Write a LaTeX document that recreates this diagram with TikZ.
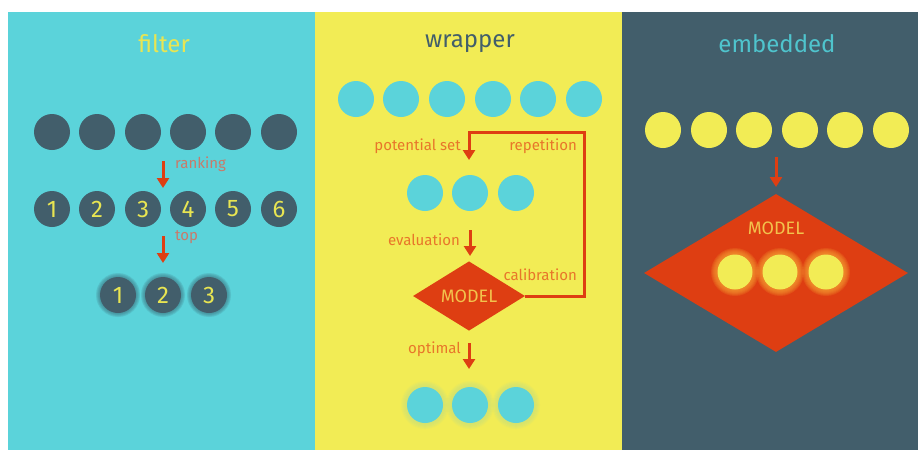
\documentclass[tikz,border=0pt]{standalone}
\usepackage{fontspec}
\setmainfont{Fira Sans}
\usetikzlibrary{arrows.meta,shapes.geometric}
\definecolor{cyanbg}{HTML}{5BD3DA}
\definecolor{yellowbg}{HTML}{F2EC55}
\definecolor{slatebg}{HTML}{425E6B}
\definecolor{redarr}{HTML}{DE3E12}
\definecolor{lblcyan}{HTML}{C97A6A}
\definecolor{lblyel}{HTML}{E8762A}
\definecolor{modeltxt}{HTML}{F2C24C}
\definecolor{numtxt}{HTML}{E8E552}
\definecolor{titlecyan}{HTML}{4FC4CD}
\definecolor{glowdark}{HTML}{3A6E7B}
\definecolor{glowyel}{HTML}{CDE27A}
\definecolor{glowred}{HTML}{F7A233}
\tikzset{
  ball/.style={circle,inner sep=0pt,minimum size=36pt,fill=#1,font=\fontsize{24}{24}\selectfont,text=numtxt},
  title/.style={font=\fontsize{24}{24}\selectfont,text=#1},
  lbl/.style={font=\fontsize{15}{15}\selectfont,text=#1,inner sep=1pt},
  redarrow/.style={draw=redarr,line width=3pt,-{Triangle[width=12pt,length=10pt]}},
  modeltext/.style={font=\fontsize{18}{18}\selectfont,text=modeltxt},
}
\newcommand{\glowat}[4]{%
  \foreach \k in {#4}{%
    \fill[#3,opacity=0.18] (#1,#2) circle[radius={18+\k}];
  }%
}
\begin{document}
\begin{tikzpicture}[x=1pt,y=-1pt]
\useasboundingbox (0,0) rectangle (918,450);
\fill[white] (0,0) rectangle (918,450);
% panels
\fill[cyanbg] (8,12) rectangle (315,450);
\fill[yellowbg] (315,12) rectangle (622,450);
\fill[slatebg] (622,12) rectangle (918,450);
% ===== filter =====
\node[title=numtxt] (tf) at (164,44) {filter};
\foreach \i/\x in {1/52,2/97,3/143,4/188,5/233,6/279}{
  \node[ball=slatebg] (fa\i) at (\x,132) {};
  \node[ball=slatebg] (fb\i) at (\x,209) {\i};
}
\foreach \x in {118,163,209}{\glowat{\x}{295}{glowdark}{4,3,2,1}}
\node[ball=slatebg] (fc1) at (118,295) {1};
\node[ball=slatebg] (fc2) at (163,295) {2};
\node[ball=slatebg] (fc3) at (209,295) {3};
\coordinate (fr1) at (163,161);
\coordinate (fr2) at (163,188);
\coordinate (ft1) at (163,236);
\coordinate (ft2) at (163,263);
\draw[redarrow] (fr1) -- (fr2);
\draw[redarrow] (ft1) -- (ft2);
\node[lbl=lblcyan,anchor=west] (lrank) at (174,164) {ranking};
\node[lbl=lblcyan,anchor=west] (ltop) at (174,237) {top};
% ===== wrapper =====
\node[title=slatebg] (tw) at (470,44) {wrapper};
\foreach \i/\x in {1/356,2/401,3/447,4/493,5/538,6/584}{
  \node[ball=cyanbg] (wa\i) at (\x,99) {};
}
\foreach \i/\x in {1/425,2/470,3/516}{
  \node[ball=cyanbg] (wb\i) at (\x,193) {};
}
\foreach \x in {425,470,516}{\glowat{\x}{405}{glowyel}{6,5,4,3,2,1}}
\foreach \i/\x in {1/425,2/470,3/516}{
  \node[ball=cyanbg] (wc\i) at (\x,405) {};
}
\node[diamond,fill=redarr,minimum width=112pt,minimum height=56pt,inner sep=0pt,modeltext] (wm) at (469,296) {MODEL};
\coordinate (wloopr) at (584,296);
\coordinate (wloopt) at (584,132);
\coordinate (wloopl) at (469,132);
\coordinate (wloope) at (469,160);
\draw[redarr,line width=3pt,-{Triangle[width=12pt,length=10pt]}] (wm.east) -- (wloopr) -- (wloopt) -- (wloopl) -- (wloope);
\coordinate (we1) at (470,230);
\coordinate (we2) at (470,256);
\coordinate (wo1) at (469,343);
\coordinate (wo2) at (469,369);
\draw[redarrow] (we1) -- (we2);
\draw[redarrow] (wo1) -- (wo2);
\node[lbl=lblyel,anchor=east] (lpot) at (462,146) {potential set};
\node[lbl=lblyel,anchor=east] (lrep) at (578,146) {repetition};
\node[lbl=lblyel,anchor=east] (leva) at (461,240) {evaluation};
\node[lbl=lblyel,anchor=east] (lcal) at (578,275) {calibration};
\node[lbl=lblyel,anchor=east] (lopt) at (462,349) {optimal};
% ===== embedded =====
\node[title=titlecyan] (te) at (777,44) {embedded};
\foreach \i/\x in {1/663,2/709,3/754,4/800,5/845,6/891}{
  \node[ball=yellowbg] (ea\i) at (\x,130) {};
}
\node[diamond,fill=redarr,minimum width=264pt,minimum height=158pt,inner sep=0pt] (em) at (776,273) {};
\coordinate (ee1) at (776,157);
\coordinate (ee2) at (776,187);
\draw[redarrow] (ee1) -- (ee2);
\node[modeltext] (emt) at (776,228) {MODEL};
\foreach \x in {735,780,826}{\glowat{\x}{272}{glowred}{6,5,4,3,2,1}}
\foreach \i/\x in {1/735,2/780,3/826}{
  \node[ball=yellowbg,minimum size=35pt] (ec\i) at (\x,272) {};
}
\end{tikzpicture}
\end{document}
